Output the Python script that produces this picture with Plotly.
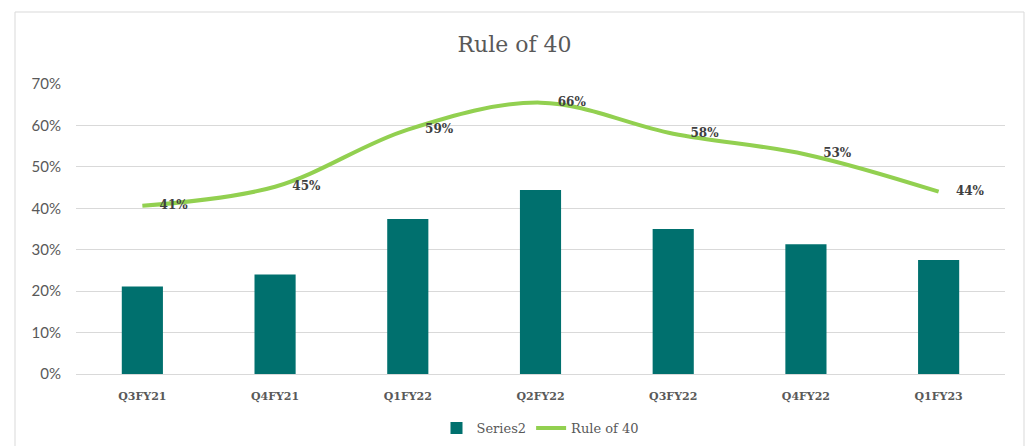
import plotly.graph_objects as go

categories = ["Q3FY21", "Q4FY21", "Q1FY22", "Q2FY22", "Q3FY22", "Q4FY22", "Q1FY23"]
series2 = [0.211, 0.240, 0.374, 0.444, 0.350, 0.313, 0.275]
rule_of_40 = [0.406, 0.452, 0.590, 0.655, 0.580, 0.530, 0.440]
rule_labels = ["41%", "45%", "59%", "66%", "58%", "53%", "44%"]
y_ticks = [0, 0.1, 0.2, 0.3, 0.4, 0.5, 0.6, 0.7]

fig = go.Figure()
fig.add_trace(go.Bar(
    x=categories, y=series2, name="Series2",
    marker=dict(color="#00706E", line=dict(width=0)),
    width=0.31,
))
fig.add_trace(go.Scatter(
    x=categories, y=rule_of_40, name="Rule of 40",
    mode="lines+markers+text",
    line=dict(color="#92D050", width=4, shape="spline", smoothing=1.0),
    marker=dict(size=26, color="rgba(0,0,0,0)", line=dict(width=0)),
    text=rule_labels, textposition="middle right",
    textfont=dict(family="DejaVu Serif", size=12, color="#404040", weight="bold"),
))

fig.update_layout(
    width=1029, height=446,
    margin=dict(l=76, r=24, t=84, b=72, autoexpand=False),
    paper_bgcolor="white", plot_bgcolor="white",
    title=dict(text="Rule of 40", x=0.5, xanchor="center", y=0.9, yanchor="middle",
               font=dict(family="DejaVu Serif", size=22, color="#595959")),
    showlegend=True,
    legend=dict(orientation="h", x=0.5, xanchor="center", yref="container", y=0.04,
                yanchor="middle",
                font=dict(family="DejaVu Serif", size=13, color="#595959")),
    shapes=[dict(type="rect", xref="paper", yref="paper",
                 x0=(15 - 76) / 929, x1=(1024 - 76) / 929,
                 y0=(374 - 470) / 290, y1=(374 - 12) / 290,
                 line=dict(color="#D9D9D9", width=1), layer="below")],
)
fig.update_xaxes(
    showgrid=False, showline=True, linecolor="#D9D9D9", linewidth=1, ticks="",
    ticklabelstandoff=12,
    tickfont=dict(family="DejaVu Serif", size=11, color="#595959", weight="bold"),
)
fig.update_yaxes(
    range=[0, 0.7], tickvals=y_ticks, tickformat=".0%",
    showgrid=True, gridcolor="#D9D9D9", gridwidth=1, zeroline=False,
    tickfont=dict(family="Lato", size=15, color="#595959"), ticks="",
    ticklabelstandoff=14,
)
fig.write_html("out.html")
